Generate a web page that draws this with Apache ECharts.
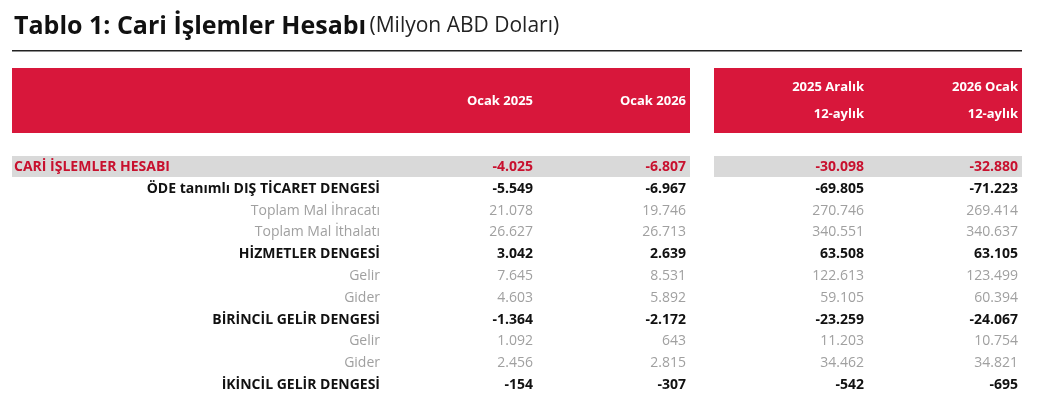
<!DOCTYPE html>
<html><head><meta charset="utf-8">
<script src="https://cdn.jsdelivr.net/npm/echarts@6/dist/echarts.min.js"></script>
<style>html,body{margin:0;background:#fff}#c{width:1039px;height:410px}</style>
</head><body><div id="c"></div>
<script>
const columns = ["Ocak 2025","Ocak 2026","2025 Aralık\n12-aylık","2026 Ocak\n12-aylık"];
const labels = ["CARİ İŞLEMLER HESABI","ÖDE tanımlı DIŞ TİCARET DENGESİ","Toplam Mal İhracatı","Toplam Mal İthalatı","HİZMETLER DENGESİ","Gelir","Gider","BİRİNCİL GELİR DENGESİ","Gelir","Gider","İKİNCİL GELİR DENGESİ"];
const rowType = ["main","bold","light","light","bold","light","light","bold","light","light","bold"];
const ocak2025 = ["-4.025","-5.549","21.078","26.627","3.042","7.645","4.603","-1.364","1.092","2.456","-154"];
const ocak2026 = ["-6.807","-6.967","19.746","26.713","2.639","8.531","5.892","-2.172","643","2.815","-307"];
const aralik12 = ["-30.098","-69.805","270.746","340.551","63.508","122.613","59.105","-23.259","11.203","34.462","-542"];
const ocak12 = ["-32.880","-71.223","269.414","340.637","63.105","123.499","60.394","-24.067","10.754","34.821","-695"];

const chart = echarts.init(document.getElementById('c'));
const F = "'Open Sans', 'Noto Sans', sans-serif";
const RED = '#d8173b';
const colX = [533, 686, 864, 1018];
const els = [];
els.push({type:'text',left:14,top:14,style:{text:'{b|Tablo 1: Cari İşlemler Hesabı} {n|(Milyon ABD Doları)}',rich:{b:{font:"bold 25px "+F,fill:'#111'},n:{font:"21px "+F,fill:'#222'}}}});
els.push({type:'rect',shape:{x:12,y:50,width:1010,height:1.5},style:{fill:'#222'}});
els.push({type:'rect',shape:{x:12,y:68,width:678,height:65},style:{fill:RED}});
els.push({type:'rect',shape:{x:714,y:68,width:308,height:65},style:{fill:RED}});
els.push({type:'rect',shape:{x:12,y:156,width:678,height:21},style:{fill:'#d9d9d9'}});
els.push({type:'rect',shape:{x:714,y:156,width:308,height:21},style:{fill:'#d9d9d9'}});
columns.forEach((c,i)=>{
  els.push({type:'text',x:colX[i],y:101,style:{text:c,align:'right',verticalAlign:'middle',font:"bold 13px "+F,fill:'#fff',lineHeight:27}});
});
const cols=[ocak2025,ocak2026,aralik12,ocak12];
labels.forEach((l,r)=>{
  const y=167+r*21.8, t=rowType[r];
  const fill = t==='main'?'#c8102e':(t==='bold'?'#111':'#a0a0a0');
  const font = (t==='light'?'':'bold ')+"14px "+F;
  els.push({type:'text',x:t==='main'?14:380,y:y,style:{text:l,align:t==='main'?'left':'right',verticalAlign:'middle',font:font,fill:fill}});
  cols.forEach((a,i)=>els.push({type:'text',x:colX[i],y:y,style:{text:a[r],align:'right',verticalAlign:'middle',font:font,fill:fill}}));
});
chart.setOption({graphic:{elements:els}});
</script></body></html>
